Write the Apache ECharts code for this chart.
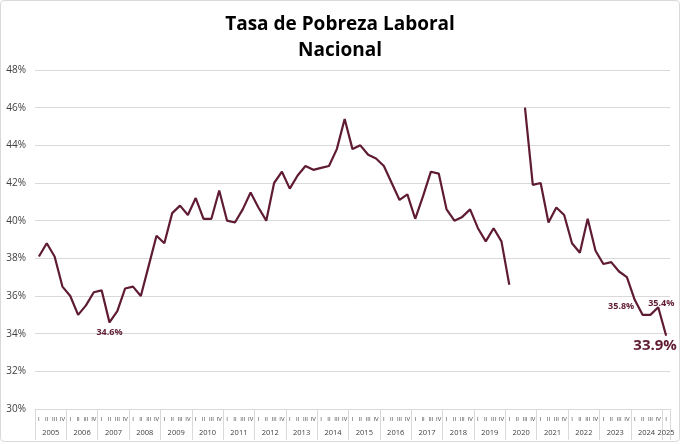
<!DOCTYPE html>
<html><head><meta charset="utf-8">
<script src="https://cdn.jsdelivr.net/npm/echarts@6/dist/echarts.min.js"></script>
<style>
html,body{margin:0;padding:0;background:#fff}
#wrap{position:relative;width:680px;height:444px}
#chart{position:absolute;left:0;top:0;width:680px;height:444px}
#frame{position:absolute;left:0;top:0;width:678px;height:440px;border:1px solid #d9d9d9;border-radius:4px;pointer-events:none}
</style></head><body>
<div id="wrap"><div id="chart"></div><div id="frame"></div></div>
<script>
const years = ['2005','2006','2007','2008','2009','2010','2011','2012','2013','2014','2015','2016','2017','2018','2019','2020','2021','2022','2023','2024','2025'];
const quarterNames = ['I','II','III','IV'];
const pobreza = [
  38.1, 38.8, 38.1, 36.5,
  36.0, 35.0, 35.5, 36.2,
  36.3, 34.6, 35.2, 36.4,
  36.5, 36.0, 37.6, 39.2,
  38.8, 40.4, 40.8, 40.3,
  41.2, 40.1, 40.1, 41.6,
  40.0, 39.9, 40.6, 41.5,
  40.7, 40.0, 42.0, 42.6,
  41.7, 42.4, 42.9, 42.7,
  42.8, 42.9, 43.8, 45.4,
  43.8, 44.0, 43.5, 43.3,
  42.9, 42.0, 41.1, 41.4,
  40.1, 41.3, 42.6, 42.5,
  40.6, 40.0, 40.2, 40.6,
  39.6, 38.9, 39.6, 38.9,
  36.6, null, 46.0, 41.9,
  42.0, 39.9, 40.7, 40.3,
  38.8, 38.3, 40.1, 38.4,
  37.7, 37.8, 37.3, 37.0,
  35.8, 35.0, 35.0, 35.4,
  33.9
];
const yMin = 30, yMax = 48, yStep = 2;

const quarterCats = pobreza.map((v, i) => quarterNames[i % 4]);
const yearCats = pobreza.map((v, i) => years[Math.floor(i / 4)]);
const lastIdx = pobreza.length - 1;

const maroon = '#5f1b34';
const labelStyles = {
  9:  {position: 'bottom', distance: 5, fontSize: 9},
  76: {position: 'left', distance: 0, offset: [0, 7], fontSize: 9},
  79: {position: 'top', distance: 1, offset: [3, 2], fontSize: 9},
  80: {position: 'bottom', distance: 2, offset: [-11, 0], fontSize: 15}
};
const seriesData = pobreza.map((v, i) => {
  if (labelStyles[i] && v != null) {
    return {
      value: v, symbol: 'circle', symbolSize: 1,
      label: Object.assign({
        show: true,
        formatter: p => p.value.toFixed(1) + '%',
        color: maroon, fontWeight: 'bold', fontFamily: 'Open Sans'
      }, labelStyles[i])
    };
  }
  return v;
});

const chart = echarts.init(document.getElementById('chart'), null, {renderer: 'canvas'});
chart.setOption({
  animation: false,
  backgroundColor: '#fff',
  title: {
    text: 'Tasa de Pobreza Laboral\nNacional',
    left: 'center', top: 7,
    textStyle: {fontFamily: 'Open Sans', fontWeight: 'bold', fontSize: 19, lineHeight: 26, color: '#000'}
  },
  grid: {left: 35, right: 10, top: 70, bottom: 35, containLabel: false},
  xAxis: [
    {
      type: 'category', data: quarterCats, position: 'bottom', boundaryGap: true,
      axisLine: {show: true, lineStyle: {color: '#d9d9d9', width: 1}},
      axisTick: {show: false},
      axisLabel: {interval: 0, margin: 7, fontSize: 6, color: '#404040', fontFamily: 'Open Sans'},
      splitLine: {show: false}
    },
    {
      type: 'category', data: yearCats, position: 'bottom', offset: 0, boundaryGap: true,
      axisLine: {show: false},
      axisTick: {show: true, interval: (i) => i % 4 === 0, length: 31, lineStyle: {color: '#d9d9d9', width: 1}},
      axisLabel: {
        interval: (i) => i % 4 === 1 || i === lastIdx,
        margin: 20, color: '#404040', fontFamily: 'Open Sans',
        formatter: (val, i) => (i === lastIdx ? '{e|' + val + '}' : '{m|' + val + '}'),
        rich: {
          m: {padding: [0, 0, 0, 8], fontSize: 7.5, color: '#404040', fontFamily: 'Open Sans'},
          e: {fontSize: 7.5, color: '#404040', fontFamily: 'Open Sans'}
        }
      },
      splitLine: {show: false}
    }
  ],
  yAxis: {
    type: 'value', min: yMin, max: yMax, interval: yStep,
    axisLine: {show: false}, axisTick: {show: false},
    axisLabel: {formatter: '{value}%', color: '#404040', fontSize: 10, margin: 9, fontFamily: 'Open Sans'},
    splitLine: {lineStyle: {color: '#d9d9d9', width: 1}}
  },
  series: [{
    type: 'line', xAxisIndex: 0, data: seriesData,
    symbol: 'none', showAllSymbol: true, connectNulls: false,
    lineStyle: {color: maroon, width: 2.2},
    itemStyle: {color: maroon}
  }]
});
</script>
</body></html>
